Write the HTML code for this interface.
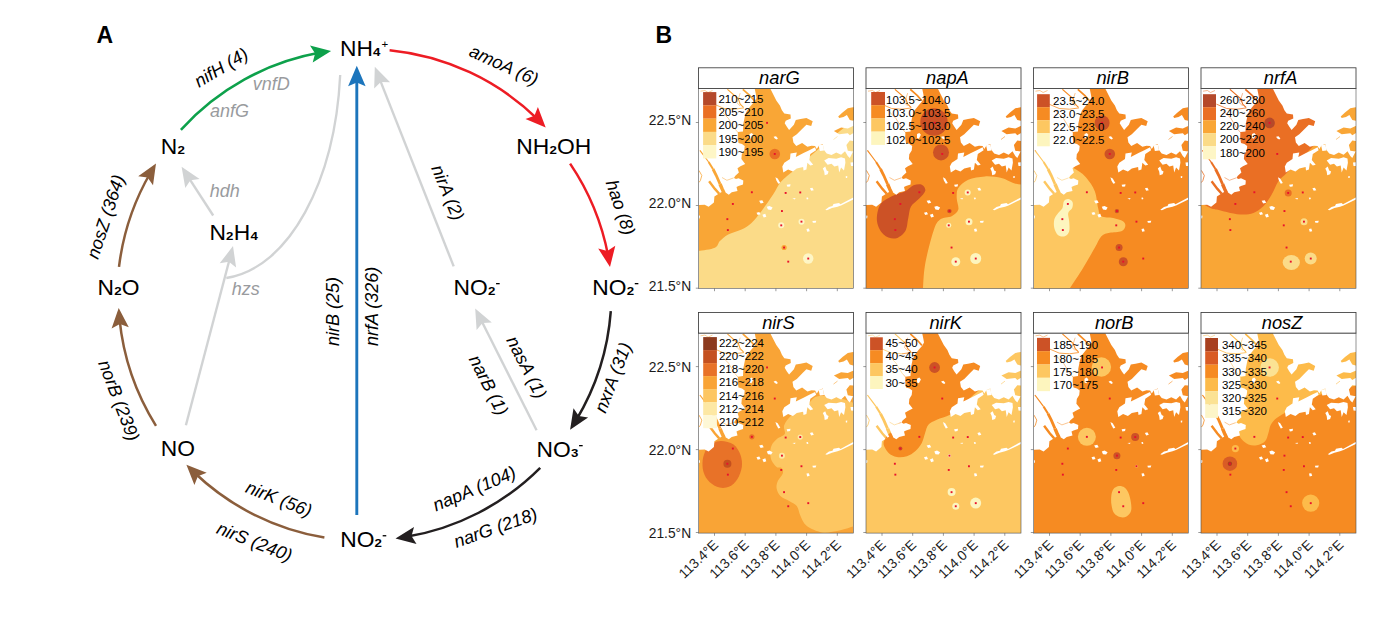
<!DOCTYPE html>
<html><head><meta charset="utf-8"><title>Figure</title>
<style>html,body{margin:0;padding:0;background:#fff;}body{width:1380px;height:623px;overflow:hidden;font-family:"Liberation Sans", sans-serif;}svg{display:block;position:absolute;left:0;top:0;}svg text{font-family:"Liberation Sans", sans-serif;}</style>
</head><body>
<svg width="1380" height="623" viewBox="0 0 1380 623">
<defs>
<mask id="water" maskUnits="userSpaceOnUse" x="0" y="0" width="155" height="200">
<rect x="0" y="0" width="155" height="200" fill="#fff"/>
<path d="M-2.0 -2.0 L56.0 -2.0 L56.3 0.6 L57.3 5.5 L58.0 9.5 L56.0 13.0 L52.5 17.0 L48.5 22.0 L46.5 27.0 L45.5 32.0 L44.8 35.3 L44.5 43.0 L39.4 43.6 L39.2 49.0 L40.0 54.5 L43.5 55.5 L46.2 57.5 L45.7 61.9 L43.3 65.8 L42.9 70.6 L46.7 75.4 L41.9 77.8 L39.0 79.7 L40.4 84.1 L36.6 87.4 L35.5 89.5 L37.5 90.6 L40.0 89.8 L44.8 92.0 L44.5 96.0 L40.0 97.5 L38.0 98.5 L39.0 102.4 L33.2 103.8 L30.3 106.2 L27.4 104.3 L25.5 102.4 L21.7 104.3 L15.9 108.1 L15.4 113.9 L10.1 118.3 L6.2 116.3 L0.0 116.6 L-2.0 116.6Z" fill="#000"/>
<path d="M72.0 -2.0 L72.0 0.6 L77.8 11.9 L81.4 16.9 L83.4 21.7 L85.8 25.1 L92.0 26.1 L92.3 29.9 L87.2 32.3 L86.2 34.7 L88.2 38.1 L90.6 41.5 L95.4 36.2 L97.3 31.4 L102.0 30.6 L107.9 29.4 L114.2 32.8 L112.7 37.6 L107.9 36.2 L104.1 40.0 L98.3 45.8 L94.0 48.7 L94.9 54.0 L97.8 57.4 L103.6 54.5 L108.9 58.3 L113.0 57.2 L116.6 57.4 L118.3 60.5 L120.5 57.0 L124.3 55.4 L125.3 61.2 L128.2 65.0 L133.0 66.5 L137.8 64.1 L142.6 66.3 L146.5 62.7 L149.3 67.5 L151.3 69.4 L154.6 63.1 L157.0 63.1 L157.0 -2.0Z" fill="#000"/>
<path d="M83.8 78.1 L85.8 74.2 L91.5 70.4 L92.0 65.1 L98.3 64.1 L97.3 68.5 L105.0 64.6 L110.8 61.7 L116.6 58.8 L117.6 61.7 L111.8 65.6 L110.8 71.4 L114.7 76.2 L111.8 77.1 L108.9 74.2 L107.9 81.0 L105.0 81.9 L104.6 78.6 L98.3 80.0 L94.4 82.9 L89.6 81.0 L84.8 83.9Z" fill="#000"/>
<path d="M125.7 72.0 L130.1 69.6 L137.8 70.2 L142.6 68.8 L146.5 70.0 L146.9 74.2 L145.5 81.9 L142.6 79.1 L140.7 83.9 L139.7 77.1 L135.9 78.1 L133.0 75.2 L129.1 76.2Z" fill="#000"/>
<path d="M124.3 80.0 L126.7 78.1 L128.2 81.9 L130.1 82.9 L129.1 85.8 L126.2 86.8 L125.7 82.9Z" fill="#000"/>
<path d="M75.1 48.3 L77.5 47.7 L79.4 50.0 L78.2 51.0 L76.3 49.9Z" fill="#000"/>
<path d="M51.0 45.6 L53.3 44.5 L54.9 46.3 L52.9 50.2 L51.0 49.4Z" fill="#000"/>
<path d="M120.0 56.7 L124.5 55.9 L125.5 61.9 L121.4 62.5Z" fill="#000"/>
<path d="M76.9 88.8 L79.2 90.1 L81.8 94.6 L79.8 95.3 L77.9 92.0Z" fill="#000"/>
<path d="M88.1 96.2 L92.0 95.7 L91.6 97.9 L88.9 98.3Z" fill="#000"/>
<path d="M111.4 99.8 L113.9 99.2 L115.3 101.7 L112.7 102.3Z" fill="#000"/>
<path d="M93.9 109.9 L97.1 109.6 L96.3 111.0Z" fill="#000"/>
<path d="M107.8 109.2 L109.4 108.9 L109.9 110.6 L108.4 110.9Z" fill="#000"/>
<path d="M60.6 112.3 L63.8 111.7 L65.2 114.2 L62.2 114.9Z" fill="#000"/>
<path d="M68.3 118.3 L71.0 117.5 L74.1 119.1 L72.6 121.5 L69.5 121.1Z" fill="#000"/>
<path d="M58.0 124.2 L60.8 123.4 L62.0 125.8 L59.2 126.6Z" fill="#000"/>
<path d="M63.9 126.3 L66.8 125.2 L67.8 128.2 L65.2 129.1Z" fill="#000"/>
<path d="M126.8 121.2 L130.5 118.5 L134.0 117.6 L135.0 115.6 L140.5 114.6 L142.0 115.8 L154.3 109.2 L157.0 108.3 L157.0 110.3 L154.3 111.2 L142.5 117.0 L139.0 118.2 L133.4 119.6 L128.4 121.7Z" fill="#000"/>
<path d="M108.0 140.5 L110.3 140.1 L111.2 142.7 L108.7 143.3Z" fill="#000"/>
<path d="M113.9 132.6 L117.8 132.3 L117.1 134.3 L114.4 134.3Z" fill="#000"/>
<path d="M147.2 87.7 L148.8 87.5 L148.6 89.5 L147.4 89.4Z" fill="#000"/>
<path d="M152.0 74.0 L156.4 73.8 L156.4 77.6 L152.5 77.5Z" fill="#000"/>
<path d="M-1.6 126.5 L1.5 127.3 L1.1 130.0 L-1.6 129.6Z" fill="#000"/>
<path d="M157.0 18.8 L154.6 18.8 L149.3 19.8 L144.0 24.0 L139.7 28.0 L140.7 29.4 L145.0 28.5 L148.4 26.5 L151.3 31.4 L154.6 32.3 L157.0 32.3Z" fill="#fff"/>
<path d="M157.0 37.6 L154.6 37.6 L149.3 40.0 L142.6 39.1 L135.4 42.4 L140.7 45.8 L149.3 44.8 L151.3 46.8 L154.6 44.8 L157.0 44.8Z" fill="#fff"/>
<path d="M157.0 52.5 L154.6 52.5 L151.3 52.1 L147.9 56.4 L149.3 62.2 L154.6 63.1 L157.0 63.1Z" fill="#fff"/>
<path d="M1.4 61.9 L6.0 68.0 L10.1 73.5" fill="none" stroke="#fff" stroke-width="1.2"/>
<path d="M10.1 73.5 L14.5 80.5" fill="none" stroke="#fff" stroke-width="2.0"/>
<path d="M14.5 80.5 L17.8 87.0 L21.5 95.5" fill="none" stroke="#fff" stroke-width="2.8"/>
<path d="M21.5 95.5 L23.6 100.4 L25.5 104.5" fill="none" stroke="#fff" stroke-width="3.5"/>
<path d="M10.6 92.7 L16.4 100.4 L20.7 105.3" fill="none" stroke="#fff" stroke-width="2.4"/>
<path d="M0.5 82.0 L3.3 87.0 L1.9 92.0 L0.4 94.0" fill="none" stroke="#fff" stroke-width="0.8"/>
<path d="M23.5 89.0 L28.4 91.8 L35.1 89.4" fill="none" stroke="#fff" stroke-width="0.5"/>
<path d="M28.9 0.8 L39.8 10.4 L41.7 15.6 L45.0 18.8" fill="none" stroke="#fff" stroke-width="1.1"/>
<path d="M44.3 0.8 L51.4 7.2 L55.9 12.3" fill="none" stroke="#fff" stroke-width="1.7"/>
<path d="M15.4 15.6 L25.7 20.0 L36.0 20.7 L45.5 19.4" fill="none" stroke="#fff" stroke-width="0.8"/>
<path d="M2.0 2.7 L6.4 2.0 L9.6 4.0 L14.0 2.0" fill="none" stroke="#fff" stroke-width="0.5"/>
<path d="M41.7 4.6 L38.5 14.3 L41.7 17.5" fill="none" stroke="#fff" stroke-width="0.5"/>
<path d="M22.0 22.0 L30.0 30.0 L36.0 40.0 L40.0 44.5" fill="none" stroke="#fff" stroke-width="0.5"/>
<path d="M135.0 51.0 L139.0 48.0" fill="none" stroke="#fff" stroke-width="0.6"/>
</mask>
</defs>
<rect x="0" y="0" width="1380" height="623" fill="#fff"/>
<path d="M340.2 75 C335 180 290 268 226.3 278" fill="none" stroke="#d1d3d4" stroke-width="2.35"/>
<line x1="185.9" y1="425.3" x2="230.5" y2="255.8" stroke="#d1d3d4" stroke-width="2.4"/><path d="M233.0 246.1 L236.1 267.6 L228.9 261.8 L219.7 263.3 Z" fill="#d1d3d4"/>
<line x1="213.2" y1="215.5" x2="187.0" y2="175.1" stroke="#d1d3d4" stroke-width="2.4"/><path d="M181.6 166.7 L199.6 178.9 L190.4 180.3 L185.3 188.1 Z" fill="#d1d3d4"/>
<line x1="453.7" y1="266.4" x2="378.5" y2="76.1" stroke="#d1d3d4" stroke-width="2.4"/><path d="M374.8 66.8 L390.1 82.3 L380.8 81.9 L374.2 88.5 Z" fill="#d1d3d4"/>
<line x1="536.6" y1="430.3" x2="479.7" y2="317.3" stroke="#d1d3d4" stroke-width="2.4"/><path d="M475.2 308.4 L491.8 322.4 L482.5 322.9 L476.6 330.1 Z" fill="#d1d3d4"/>
<line x1="356.8" y1="515.0" x2="356.8" y2="75.7" stroke="#1c75bc" stroke-width="2.9"/><path d="M356.8 65.7 L365.6 86.2 L356.8 82.4 L348.1 86.2 Z" fill="#1c75bc"/>
<path d="M180.9 129.8 A247.0 247.0 0 0 1 320.2 52.6" fill="none" stroke="#0da14b" stroke-width="2.5"/><path d="M331.1 50.9 L312.7 62.5 L315.1 53.4 L310.0 45.4 Z" fill="#0da14b"/>
<path d="M389.6 50.2 A247.0 247.0 0 0 1 538.0 119.5" fill="none" stroke="#ed1c24" stroke-width="2.5"/><path d="M545.7 127.4 L525.5 119.1 L534.4 115.8 L537.9 107.0 Z" fill="#ed1c24"/>
<path d="M570.1 163.6 A247.0 247.0 0 0 1 608.2 256.0" fill="none" stroke="#ed1c24" stroke-width="2.5"/><path d="M610.0 266.9 L598.2 248.6 L607.3 250.9 L615.3 245.8 Z" fill="#ed1c24"/>
<path d="M610.8 311.2 A247.0 247.0 0 0 1 576.0 420.5" fill="none" stroke="#231f20" stroke-width="2.5"/><path d="M570.1 429.8 L573.5 408.3 L578.8 416.1 L588.1 417.5 Z" fill="#231f20"/>
<path d="M540.2 467.8 A247.0 247.0 0 0 1 406.4 536.8" fill="none" stroke="#231f20" stroke-width="2.5"/><path d="M395.5 538.4 L414.0 527.0 L411.5 536.1 L416.5 544.1 Z" fill="#231f20"/>
<path d="M324.4 537.6 A247.0 247.0 0 0 1 194.2 472.5" fill="none" stroke="#8b5e3c" stroke-width="2.5"/><path d="M186.4 464.7 L206.7 472.7 L197.9 476.2 L194.4 485.0 Z" fill="#8b5e3c"/>
<path d="M156.0 425.8 A247.0 247.0 0 0 1 119.5 318.9" fill="none" stroke="#8b5e3c" stroke-width="2.5"/><path d="M118.7 307.9 L128.8 327.2 L119.9 324.1 L111.6 328.5 Z" fill="#8b5e3c"/>
<path d="M119.0 266.9 A247.0 247.0 0 0 1 150.3 173.0" fill="none" stroke="#8b5e3c" stroke-width="2.5"/><path d="M156.0 163.6 L153.0 185.2 L147.6 177.4 L138.2 176.2 Z" fill="#8b5e3c"/>
<text x="340.00" y="56.1" font-size="22.8" fill="#000">NH</text><text transform="translate(373.12,56.1) scale(1.30,1)" font-size="10.2" font-weight="bold" fill="#000">4</text><text x="381.50" y="47.7" font-size="11.5" fill="#000">+</text>
<text x="516.30" y="154.4" font-size="22.8" fill="#000">NH</text><text transform="translate(549.42,154.4) scale(1.30,1)" font-size="10.2" font-weight="bold" fill="#000">2</text><text x="557.10" y="154.4" font-size="22.8" fill="#000">OH</text>
<text x="592.30" y="294.6" font-size="22.8" fill="#000">NO</text><text transform="translate(626.70,294.6) scale(1.30,1)" font-size="10.2" font-weight="bold" fill="#000">2</text><rect x="634.77" y="283.00" width="3.6" height="1.3" fill="#000"/>
<text x="453.60" y="294.6" font-size="22.8" fill="#000">NO</text><text transform="translate(488.00,294.6) scale(1.30,1)" font-size="10.2" font-weight="bold" fill="#000">2</text><rect x="496.07" y="283.00" width="3.6" height="1.3" fill="#000"/>
<text x="536.60" y="456.6" font-size="22.8" fill="#000">NO</text><text transform="translate(571.00,456.6) scale(1.30,1)" font-size="10.2" font-weight="bold" fill="#000">3</text><rect x="579.07" y="445.00" width="3.6" height="1.3" fill="#000"/>
<text x="340.20" y="546.7" font-size="22.8" fill="#000">NO</text><text transform="translate(374.60,546.7) scale(1.30,1)" font-size="10.2" font-weight="bold" fill="#000">2</text><rect x="382.67" y="535.10" width="3.6" height="1.3" fill="#000"/>
<text x="160.80" y="456.3" font-size="22.8" fill="#000">NO</text>
<text x="97.50" y="294.6" font-size="22.8" fill="#000">N</text><text transform="translate(114.16,294.6) scale(1.30,1)" font-size="10.2" font-weight="bold" fill="#000">2</text><text x="121.83" y="294.6" font-size="22.8" fill="#000">O</text>
<text x="160.80" y="154.4" font-size="22.8" fill="#000">N</text><text transform="translate(177.46,154.4) scale(1.30,1)" font-size="10.2" font-weight="bold" fill="#000">2</text>
<text x="209.40" y="239.6" font-size="22.8" fill="#000">N</text><text transform="translate(226.06,239.6) scale(1.30,1)" font-size="10.2" font-weight="bold" fill="#000">2</text><text x="233.73" y="239.6" font-size="22.8" fill="#000">H</text><text transform="translate(250.40,239.6) scale(1.30,1)" font-size="10.2" font-weight="bold" fill="#000">4</text>
<text transform="translate(199.0,88.0) rotate(-31.0)" font-size="18.0" font-style="italic" fill="#000" text-anchor="start">nifH (4)</text>
<text transform="translate(252.7,90.3) rotate(0.0)" font-size="18.0" font-style="italic" fill="#999b9e" text-anchor="start">vnfD</text>
<text transform="translate(209.9,116.6) rotate(0.0)" font-size="18.0" font-style="italic" fill="#999b9e" text-anchor="start">anfG</text>
<text transform="translate(209.8,196.6) rotate(0.0)" font-size="18.0" font-style="italic" fill="#999b9e" text-anchor="start">hdh</text>
<text transform="translate(231.8,294.6) rotate(0.0)" font-size="18.0" font-style="italic" fill="#999b9e" text-anchor="start">hzs</text>
<text transform="translate(468.0,55.5) rotate(24.5)" font-size="18.0" font-style="italic" fill="#000" text-anchor="start">amoA (6)</text>
<text transform="translate(605.5,182.5) rotate(71.0)" font-size="18.0" font-style="italic" fill="#000" text-anchor="start">hao (8)</text>
<text transform="translate(431.0,168.0) rotate(67.5)" font-size="18.0" font-style="italic" fill="#000" text-anchor="start">nirA (2)</text>
<text transform="translate(605.5,414.0) rotate(-69.0)" font-size="18.0" font-style="italic" fill="#000" text-anchor="start">nxrA (31)</text>
<text transform="translate(506.0,340.0) rotate(63.0)" font-size="18.0" font-style="italic" fill="#000" text-anchor="start">nasA (1)</text>
<text transform="translate(468.5,359.0) rotate(63.0)" font-size="18.0" font-style="italic" fill="#000" text-anchor="start">narB (1)</text>
<text transform="translate(436.0,511.5) rotate(-23.0)" font-size="18.0" font-style="italic" fill="#000" text-anchor="start">napA (104)</text>
<text transform="translate(456.5,548.0) rotate(-19.5)" font-size="18.0" font-style="italic" fill="#000" text-anchor="start">narG (218)</text>
<text transform="translate(244.5,492.0) rotate(21.5)" font-size="18.0" font-style="italic" fill="#000" text-anchor="start">nirK (56)</text>
<text transform="translate(215.5,533.0) rotate(21.5)" font-size="18.0" font-style="italic" fill="#000" text-anchor="start">nirS (240)</text>
<text transform="translate(98.0,363.0) rotate(69.0)" font-size="18.0" font-style="italic" fill="#000" text-anchor="start">norB (239)</text>
<text transform="translate(98.0,260.0) rotate(-72.0)" font-size="18.0" font-style="italic" fill="#000" text-anchor="start">nosZ (364)</text>
<text transform="translate(339.0,346.0) rotate(-90.0)" font-size="18.0" font-style="italic" fill="#000" text-anchor="start">nirB (25)</text>
<text transform="translate(377.8,346.0) rotate(-90.0)" font-size="18.0" font-style="italic" fill="#000" text-anchor="start">nrfA (326)</text>
<text x="96.5" y="43" font-size="23" font-weight="bold" fill="#000">A</text>
<text x="655.5" y="43" font-size="23" font-weight="bold" fill="#000">B</text>
<g transform="translate(698.5,88.5)">
<g mask="url(#water)">
<rect x="0" y="0" width="155" height="200" fill="#fbdb88"/>
<path d="M157.0 30.0 C152.5 33.7 140.1 43.5 130.0 52.0 C119.9 60.5 104.0 74.4 96.2 81.2 C88.4 88.0 86.5 88.7 82.9 92.8 C79.3 96.9 77.9 101.1 74.6 106.1 C71.3 111.1 66.5 118.0 62.9 122.7 C59.3 127.4 56.3 131.3 53.0 134.4 C49.7 137.5 46.9 139.1 43.0 141.0 C39.1 142.9 33.3 144.1 29.7 146.0 C26.1 147.9 23.6 150.4 21.4 152.6 C19.2 154.8 20.0 157.6 16.4 159.3 C12.8 161.0 3.2 162.0 0.0 162.6 C-3.2 163.2 -2.5 162.9 -3.0 163.0 L-3 -3 L157 -3 Z" fill="#f9a636"/>
<circle cx="76.3" cy="65.5" r="5.3" fill="#ea6f24"/>
<circle cx="85.6" cy="159.0" r="2.6" fill="#f9a636"/>
<circle cx="82.7" cy="136.8" r="3.0" fill="#fef6c6"/>
<circle cx="103.0" cy="133.2" r="3.0" fill="#fef6c6"/>
<circle cx="109.7" cy="170.0" r="5.2" fill="#fef6c6"/>
</g>
<rect x="67.6" y="33.4" width="1.9" height="1.9" fill="#e8112d"/>
<rect x="75.3" y="64.5" width="1.9" height="1.9" fill="#e8112d"/>
<rect x="52.4" y="102.8" width="1.9" height="1.9" fill="#e8112d"/>
<rect x="86.2" y="103.5" width="1.9" height="1.9" fill="#e8112d"/>
<rect x="100.8" y="103.0" width="1.9" height="1.9" fill="#e8112d"/>
<rect x="33.4" y="114.5" width="1.9" height="1.9" fill="#e8112d"/>
<rect x="82.5" y="121.6" width="1.9" height="1.9" fill="#e8112d"/>
<rect x="27.9" y="129.7" width="1.9" height="1.9" fill="#e8112d"/>
<rect x="81.8" y="135.9" width="1.9" height="1.9" fill="#e8112d"/>
<rect x="102.0" y="132.2" width="1.9" height="1.9" fill="#e8112d"/>
<rect x="28.4" y="140.6" width="1.9" height="1.9" fill="#e8112d"/>
<rect x="84.6" y="158.1" width="1.9" height="1.9" fill="#e8112d"/>
<rect x="88.8" y="172.2" width="1.9" height="1.9" fill="#e8112d"/>
<rect x="108.8" y="169.1" width="1.9" height="1.9" fill="#e8112d"/>
<rect x="4.60" y="3.60" width="13.20" height="13.35" fill="#b5492a"/>
<text x="19.90" y="14.30" font-size="11.5" fill="#000">210~215</text>
<rect x="4.60" y="16.85" width="13.20" height="13.35" fill="#ea6f24"/>
<text x="19.90" y="27.60" font-size="11.5" fill="#000">205~210</text>
<rect x="4.60" y="30.10" width="13.20" height="13.35" fill="#f9a636"/>
<text x="19.90" y="40.90" font-size="11.5" fill="#000">200~205</text>
<rect x="4.60" y="43.35" width="13.20" height="13.35" fill="#fbdb88"/>
<text x="19.90" y="54.20" font-size="11.5" fill="#000">195~200</text>
<rect x="4.60" y="56.60" width="13.20" height="13.35" fill="#fef6c6"/>
<text x="19.90" y="67.50" font-size="11.5" fill="#000">190~195</text>
<rect x="0" y="0" width="155" height="200" fill="none" stroke="#4d4d4d" stroke-width="0.6"/>
<rect x="0" y="-20.7" width="155" height="20.7" fill="#fff" stroke="#3a3a3a" stroke-width="0.85"/>
<text x="80.9" y="-4.3" font-size="18.3" font-style="italic" text-anchor="middle" fill="#000">narG</text>
<line x1="16.0" y1="200" x2="16.0" y2="202.7" stroke="#555" stroke-width="0.6"/>
<line x1="46.7" y1="200" x2="46.7" y2="202.7" stroke="#555" stroke-width="0.6"/>
<line x1="77.4" y1="200" x2="77.4" y2="202.7" stroke="#555" stroke-width="0.6"/>
<line x1="108.1" y1="200" x2="108.1" y2="202.7" stroke="#555" stroke-width="0.6"/>
<line x1="138.8" y1="200" x2="138.8" y2="202.7" stroke="#555" stroke-width="0.6"/>
<line x1="-2.7" y1="34.0" x2="0" y2="34.0" stroke="#555" stroke-width="0.6"/>
<text x="-7.4" y="36.5" text-anchor="end" font-size="13.8" fill="#1a1a1a">22.5°N</text>
<line x1="-2.7" y1="117.0" x2="0" y2="117.0" stroke="#555" stroke-width="0.6"/>
<text x="-7.4" y="119.5" text-anchor="end" font-size="13.8" fill="#1a1a1a">22.0°N</text>
<line x1="-2.7" y1="199.7" x2="0" y2="199.7" stroke="#555" stroke-width="0.6"/>
<text x="-7.4" y="202.6" text-anchor="end" font-size="13.8" fill="#1a1a1a">21.5°N</text>
</g>
<g transform="translate(866.0,88.5)">
<g mask="url(#water)">
<rect x="0" y="0" width="155" height="200" fill="#f68b22"/>
<path d="M56.8 203.0 C57.2 198.5 57.3 186.0 59.1 175.9 C60.9 165.8 64.9 150.2 67.4 142.7 C69.9 135.2 71.0 133.5 74.1 131.0 C77.1 128.5 82.7 129.3 85.7 127.7 C88.7 126.0 91.5 124.1 92.3 121.1 C93.1 118.1 90.7 113.1 90.7 109.5 C90.7 105.9 90.4 102.5 92.3 99.5 C94.2 96.5 97.9 93.1 102.3 91.2 C106.7 89.3 113.4 88.2 118.9 87.9 C124.4 87.6 130.8 88.4 135.5 89.5 C140.2 90.6 143.4 93.3 147.2 94.5 C150.9 95.7 156.2 96.2 158.0 96.5 L158 203 Z" fill="#fdc761"/>
<circle cx="68.0" cy="33.5" r="13.7" fill="#cc5226"/>
<circle cx="75.0" cy="63.9" r="8.0" fill="#cc5226"/>
<path d="M55.8 96.2 C57.8 97.1 59.8 100.0 59.3 102.3 C58.8 104.6 55.4 107.7 53.0 110.3 C50.6 112.9 46.8 114.8 45.0 118.0 C43.2 121.2 43.3 125.3 42.3 129.4 C41.3 133.5 41.4 139.3 39.2 142.7 C37.0 146.1 32.8 149.4 29.2 150.0 C25.6 150.6 20.6 148.9 17.6 146.0 C14.6 143.1 11.6 137.7 11.0 132.7 C10.4 127.7 11.8 120.2 14.3 116.1 C16.8 111.9 21.8 110.0 25.9 107.8 C30.0 105.6 35.6 104.6 39.2 102.8 C42.8 101.0 44.7 97.9 47.5 96.8 C50.3 95.7 53.8 95.3 55.8 96.2Z" fill="#cc5226"/>
<circle cx="83.4" cy="122.6" r="2.2" fill="#cc5226"/>
<circle cx="101.7" cy="104.0" r="3.0" fill="#fdf5be"/>
<circle cx="103.0" cy="133.2" r="3.5" fill="#fdf5be"/>
<circle cx="89.8" cy="173.2" r="4.5" fill="#fdf5be"/>
<circle cx="109.7" cy="170.0" r="5.5" fill="#fdf5be"/>
<circle cx="82.7" cy="136.8" r="2.5" fill="#fdf5be"/>
</g>
<rect x="67.6" y="33.4" width="1.9" height="1.9" fill="#e8112d"/>
<rect x="75.3" y="64.5" width="1.9" height="1.9" fill="#e8112d"/>
<rect x="52.4" y="102.8" width="1.9" height="1.9" fill="#e8112d"/>
<rect x="86.2" y="103.5" width="1.9" height="1.9" fill="#e8112d"/>
<rect x="100.8" y="103.0" width="1.9" height="1.9" fill="#e8112d"/>
<rect x="33.4" y="114.5" width="1.9" height="1.9" fill="#e8112d"/>
<rect x="82.5" y="121.6" width="1.9" height="1.9" fill="#e8112d"/>
<rect x="27.9" y="129.7" width="1.9" height="1.9" fill="#e8112d"/>
<rect x="81.8" y="135.9" width="1.9" height="1.9" fill="#e8112d"/>
<rect x="102.0" y="132.2" width="1.9" height="1.9" fill="#e8112d"/>
<rect x="28.4" y="140.6" width="1.9" height="1.9" fill="#e8112d"/>
<rect x="84.6" y="158.1" width="1.9" height="1.9" fill="#e8112d"/>
<rect x="88.8" y="172.2" width="1.9" height="1.9" fill="#e8112d"/>
<rect x="108.8" y="169.1" width="1.9" height="1.9" fill="#e8112d"/>
<rect x="5.20" y="3.50" width="13.80" height="13.30" fill="#cc5226"/>
<text x="20.10" y="15.00" font-size="11.5" fill="#000">103.5~104.0</text>
<rect x="5.20" y="16.70" width="13.80" height="13.30" fill="#f68b22"/>
<text x="20.10" y="28.40" font-size="11.5" fill="#000">103.0~103.5</text>
<rect x="5.20" y="29.90" width="13.80" height="13.30" fill="#fdc761"/>
<text x="20.10" y="41.80" font-size="11.5" fill="#000">102.5~103.0</text>
<rect x="5.20" y="43.10" width="13.80" height="13.30" fill="#fdf5be"/>
<text x="20.10" y="55.20" font-size="11.5" fill="#000">102.0~102.5</text>
<rect x="0" y="0" width="155" height="200" fill="none" stroke="#4d4d4d" stroke-width="0.6"/>
<rect x="0" y="-20.7" width="155" height="20.7" fill="#fff" stroke="#3a3a3a" stroke-width="0.85"/>
<text x="81.4" y="-4.3" font-size="18.3" font-style="italic" text-anchor="middle" fill="#000">napA</text>
<line x1="16.0" y1="200" x2="16.0" y2="202.7" stroke="#555" stroke-width="0.6"/>
<line x1="46.7" y1="200" x2="46.7" y2="202.7" stroke="#555" stroke-width="0.6"/>
<line x1="77.4" y1="200" x2="77.4" y2="202.7" stroke="#555" stroke-width="0.6"/>
<line x1="108.1" y1="200" x2="108.1" y2="202.7" stroke="#555" stroke-width="0.6"/>
<line x1="138.8" y1="200" x2="138.8" y2="202.7" stroke="#555" stroke-width="0.6"/>
<line x1="-2.7" y1="34.0" x2="0" y2="34.0" stroke="#555" stroke-width="0.6"/>
<line x1="-2.7" y1="117.0" x2="0" y2="117.0" stroke="#555" stroke-width="0.6"/>
<line x1="-2.7" y1="199.7" x2="0" y2="199.7" stroke="#555" stroke-width="0.6"/>
</g>
<g transform="translate(1033.5,88.5)">
<g mask="url(#water)">
<rect x="0" y="0" width="155" height="200" fill="#f68b22"/>
<path d="M-3.0 60.0 C0.8 61.7 12.3 66.5 20.0 70.0 C27.7 73.5 37.5 78.0 43.0 81.2 C48.5 84.5 50.0 85.9 53.0 89.5 C56.0 93.1 59.4 97.8 61.3 102.8 C63.2 107.8 63.5 115.2 64.6 119.4 C65.7 123.6 65.4 126.0 67.9 127.7 C70.4 129.4 76.0 128.6 79.6 129.4 C83.2 130.2 87.5 131.3 89.5 132.7 C91.5 134.1 92.1 136.0 91.8 137.7 C91.5 139.4 90.5 141.6 87.9 142.7 C85.3 143.8 79.5 143.5 76.2 144.3 C72.9 145.1 70.4 145.2 67.9 147.7 C65.4 150.2 64.3 154.1 61.3 159.3 C58.3 164.6 53.9 172.4 49.7 179.2 C45.6 185.9 39.0 195.7 36.4 199.8 C33.8 203.9 34.4 203.3 34.0 204.0 L-3 204 Z" fill="#fdc761"/>
<path d="M34.7 110.5 C36.1 110.6 38.3 111.9 39.0 113.4 C39.7 114.9 39.4 117.6 38.7 119.4 C38.0 121.2 35.2 122.2 34.7 124.4 C34.2 126.6 35.5 129.6 35.7 132.7 C35.9 135.8 36.4 140.2 35.7 142.7 C35.0 145.2 33.2 147.0 31.4 147.7 C29.6 148.4 26.5 148.1 24.7 146.7 C22.9 145.3 21.4 142.0 20.8 139.4 C20.2 136.8 20.2 133.5 20.8 131.0 C21.4 128.5 23.3 126.3 24.7 124.4 C26.1 122.5 28.1 121.3 29.0 119.4 C29.9 117.5 29.4 114.3 30.4 112.8 C31.3 111.3 33.3 110.4 34.7 110.5Z" fill="#fdf5be"/>
<circle cx="68.6" cy="34.4" r="7.5" fill="#cc5226"/>
<circle cx="76.3" cy="65.5" r="5.3" fill="#cc5226"/>
<circle cx="83.4" cy="122.6" r="2.2" fill="#cc5226"/>
<circle cx="85.6" cy="159.0" r="3.5" fill="#cc5226"/>
<circle cx="89.8" cy="173.2" r="4.5" fill="#cc5226"/>
</g>
<rect x="67.6" y="33.4" width="1.9" height="1.9" fill="#e8112d"/>
<rect x="75.3" y="64.5" width="1.9" height="1.9" fill="#e8112d"/>
<rect x="52.4" y="102.8" width="1.9" height="1.9" fill="#e8112d"/>
<rect x="86.2" y="103.5" width="1.9" height="1.9" fill="#e8112d"/>
<rect x="100.8" y="103.0" width="1.9" height="1.9" fill="#e8112d"/>
<rect x="33.4" y="114.5" width="1.9" height="1.9" fill="#e8112d"/>
<rect x="82.5" y="121.6" width="1.9" height="1.9" fill="#e8112d"/>
<rect x="27.9" y="129.7" width="1.9" height="1.9" fill="#e8112d"/>
<rect x="81.8" y="135.9" width="1.9" height="1.9" fill="#e8112d"/>
<rect x="102.0" y="132.2" width="1.9" height="1.9" fill="#e8112d"/>
<rect x="28.4" y="140.6" width="1.9" height="1.9" fill="#e8112d"/>
<rect x="84.6" y="158.1" width="1.9" height="1.9" fill="#e8112d"/>
<rect x="88.8" y="172.2" width="1.9" height="1.9" fill="#e8112d"/>
<rect x="108.8" y="169.1" width="1.9" height="1.9" fill="#e8112d"/>
<rect x="3.60" y="5.70" width="12.70" height="13.10" fill="#cc5226"/>
<text x="19.50" y="16.00" font-size="11.5" fill="#000">23.5~24.0</text>
<rect x="3.60" y="18.70" width="12.70" height="13.10" fill="#f68b22"/>
<text x="19.50" y="29.05" font-size="11.5" fill="#000">23.0~23.5</text>
<rect x="3.60" y="31.70" width="12.70" height="13.10" fill="#fdc761"/>
<text x="19.50" y="42.10" font-size="11.5" fill="#000">22.5~23.0</text>
<rect x="3.60" y="44.70" width="12.70" height="13.10" fill="#fdf5be"/>
<text x="19.50" y="55.15" font-size="11.5" fill="#000">22.0~22.5</text>
<rect x="0" y="0" width="155" height="200" fill="none" stroke="#4d4d4d" stroke-width="0.6"/>
<rect x="0" y="-20.7" width="155" height="20.7" fill="#fff" stroke="#3a3a3a" stroke-width="0.85"/>
<text x="79.2" y="-4.3" font-size="18.3" font-style="italic" text-anchor="middle" fill="#000">nirB</text>
<line x1="16.0" y1="200" x2="16.0" y2="202.7" stroke="#555" stroke-width="0.6"/>
<line x1="46.7" y1="200" x2="46.7" y2="202.7" stroke="#555" stroke-width="0.6"/>
<line x1="77.4" y1="200" x2="77.4" y2="202.7" stroke="#555" stroke-width="0.6"/>
<line x1="108.1" y1="200" x2="108.1" y2="202.7" stroke="#555" stroke-width="0.6"/>
<line x1="138.8" y1="200" x2="138.8" y2="202.7" stroke="#555" stroke-width="0.6"/>
<line x1="-2.7" y1="34.0" x2="0" y2="34.0" stroke="#555" stroke-width="0.6"/>
<line x1="-2.7" y1="117.0" x2="0" y2="117.0" stroke="#555" stroke-width="0.6"/>
<line x1="-2.7" y1="199.7" x2="0" y2="199.7" stroke="#555" stroke-width="0.6"/>
</g>
<g transform="translate(1201.0,88.5)">
<g mask="url(#water)">
<rect x="0" y="0" width="155" height="200" fill="#f9a636"/>
<path d="M122.0 45.0 C120.0 47.5 114.4 55.4 110.0 60.0 C105.6 64.7 99.8 68.8 95.7 72.9 C91.7 77.0 88.8 81.2 85.7 84.5 C82.7 87.8 79.9 89.2 77.4 92.8 C74.9 96.4 73.2 101.9 70.7 106.1 C68.2 110.3 65.4 114.8 62.4 117.8 C59.4 120.8 55.8 123.0 52.5 124.4 C49.2 125.8 46.4 126.1 42.5 126.1 C38.6 126.1 33.6 125.2 29.2 124.4 C24.8 123.6 19.2 121.9 15.9 121.1 C12.6 120.3 12.5 120.8 9.3 119.4 C6.2 118.1 -0.9 114.1 -3.0 113.0 L-3 -3 L122 -3 Z" fill="#ea6f24"/>
<circle cx="68.6" cy="34.4" r="5.3" fill="#b5492a"/>
<circle cx="87.2" cy="104.4" r="3.5" fill="#ea6f24"/>
<circle cx="103.0" cy="133.2" r="3.5" fill="#fbdb88"/>
<ellipse cx="90.3" cy="174.0" rx="8.6" ry="7.4" fill="#fbdb88"/>
<circle cx="109.7" cy="170.0" r="6.0" fill="#fbdb88"/>
</g>
<rect x="67.6" y="33.4" width="1.9" height="1.9" fill="#e8112d"/>
<rect x="75.3" y="64.5" width="1.9" height="1.9" fill="#e8112d"/>
<rect x="52.4" y="102.8" width="1.9" height="1.9" fill="#e8112d"/>
<rect x="86.2" y="103.5" width="1.9" height="1.9" fill="#e8112d"/>
<rect x="100.8" y="103.0" width="1.9" height="1.9" fill="#e8112d"/>
<rect x="33.4" y="114.5" width="1.9" height="1.9" fill="#e8112d"/>
<rect x="82.5" y="121.6" width="1.9" height="1.9" fill="#e8112d"/>
<rect x="27.9" y="129.7" width="1.9" height="1.9" fill="#e8112d"/>
<rect x="81.8" y="135.9" width="1.9" height="1.9" fill="#e8112d"/>
<rect x="102.0" y="132.2" width="1.9" height="1.9" fill="#e8112d"/>
<rect x="28.4" y="140.6" width="1.9" height="1.9" fill="#e8112d"/>
<rect x="84.6" y="158.1" width="1.9" height="1.9" fill="#e8112d"/>
<rect x="88.8" y="172.2" width="1.9" height="1.9" fill="#e8112d"/>
<rect x="108.8" y="169.1" width="1.9" height="1.9" fill="#e8112d"/>
<rect x="2.00" y="5.70" width="13.00" height="13.10" fill="#b5492a"/>
<text x="18.70" y="15.80" font-size="11.5" fill="#000">260~280</text>
<rect x="2.00" y="18.70" width="13.00" height="13.10" fill="#ea6f24"/>
<text x="18.70" y="28.85" font-size="11.5" fill="#000">240~260</text>
<rect x="2.00" y="31.70" width="13.00" height="13.10" fill="#f9a636"/>
<text x="18.70" y="41.90" font-size="11.5" fill="#000">220~240</text>
<rect x="2.00" y="44.70" width="13.00" height="13.10" fill="#fbdb88"/>
<text x="18.70" y="54.95" font-size="11.5" fill="#000">200~220</text>
<rect x="2.00" y="57.70" width="13.00" height="13.10" fill="#fef6c6"/>
<text x="18.70" y="68.00" font-size="11.5" fill="#000">180~200</text>
<rect x="0" y="0" width="155" height="200" fill="none" stroke="#4d4d4d" stroke-width="0.6"/>
<rect x="0" y="-20.7" width="155" height="20.7" fill="#fff" stroke="#3a3a3a" stroke-width="0.85"/>
<text x="79.6" y="-4.3" font-size="18.3" font-style="italic" text-anchor="middle" fill="#000">nrfA</text>
<line x1="16.0" y1="200" x2="16.0" y2="202.7" stroke="#555" stroke-width="0.6"/>
<line x1="46.7" y1="200" x2="46.7" y2="202.7" stroke="#555" stroke-width="0.6"/>
<line x1="77.4" y1="200" x2="77.4" y2="202.7" stroke="#555" stroke-width="0.6"/>
<line x1="108.1" y1="200" x2="108.1" y2="202.7" stroke="#555" stroke-width="0.6"/>
<line x1="138.8" y1="200" x2="138.8" y2="202.7" stroke="#555" stroke-width="0.6"/>
<line x1="-2.7" y1="34.0" x2="0" y2="34.0" stroke="#555" stroke-width="0.6"/>
<line x1="-2.7" y1="117.0" x2="0" y2="117.0" stroke="#555" stroke-width="0.6"/>
<line x1="-2.7" y1="199.7" x2="0" y2="199.7" stroke="#555" stroke-width="0.6"/>
</g>
<g transform="translate(698.5,333.1)">
<g mask="url(#water)">
<rect x="0" y="0" width="155" height="200" fill="#f9a436"/>
<path d="M158.0 71.0 C154.8 69.9 145.2 65.8 138.6 64.5 C132.0 63.2 123.5 62.0 118.4 63.3 C113.4 64.6 112.5 68.9 108.3 72.1 C104.1 75.2 97.0 78.8 93.2 82.2 C89.4 85.6 86.9 89.1 85.7 92.2 C84.5 95.3 87.5 98.7 86.2 101.0 C84.9 103.3 80.3 104.2 78.1 106.1 C75.9 108.0 74.1 110.1 73.1 112.4 C72.0 114.7 71.8 117.5 71.8 120.0 C71.8 122.5 72.0 125.2 73.1 127.5 C74.1 129.8 76.4 132.6 78.1 133.8 C79.8 135.1 82.0 133.9 83.1 135.0 C84.1 136.1 85.0 138.0 84.4 140.1 C83.8 142.2 80.5 145.2 79.4 147.7 C78.4 150.2 77.7 152.7 78.1 155.2 C78.5 157.7 79.8 160.7 81.9 162.8 C84.0 164.9 88.0 166.1 90.7 167.8 C93.4 169.5 96.4 170.3 98.3 172.8 C100.2 175.3 100.3 179.5 102.0 182.9 C103.7 186.3 104.7 190.3 108.3 193.0 C111.9 195.7 118.4 198.5 123.4 199.3 C128.5 200.1 132.8 199.1 138.6 198.0 C144.4 196.9 154.8 193.4 158.0 192.5 Z" fill="#fdc661"/>
<path d="M23.0 108.0 C26.3 108.2 31.8 109.2 35.0 111.5 C38.2 113.8 40.6 118.2 42.0 122.0 C43.4 125.8 43.8 130.0 43.3 134.0 C42.8 138.0 41.0 142.8 39.0 146.0 C37.0 149.2 34.0 152.1 31.0 153.5 C28.0 154.9 24.3 155.2 21.0 154.5 C17.7 153.8 13.7 151.6 11.0 149.0 C8.3 146.4 6.1 142.7 5.0 139.0 C3.9 135.3 3.7 130.8 4.2 127.0 C4.7 123.2 6.2 118.8 8.0 116.0 C9.8 113.2 12.5 111.3 15.0 110.0 C17.5 108.7 19.7 107.8 23.0 108.0Z" fill="#e87228"/>
<circle cx="28.9" cy="130.6" r="4.0" fill="#c4501f"/>
<circle cx="53.4" cy="103.7" r="2.6" fill="#e87228"/>
<circle cx="101.7" cy="104.0" r="2.6" fill="#fde8a4"/>
<circle cx="83.4" cy="122.6" r="3.0" fill="#fde8a4"/>
</g>
<rect x="67.6" y="33.4" width="1.9" height="1.9" fill="#e8112d"/>
<rect x="75.3" y="64.5" width="1.9" height="1.9" fill="#e8112d"/>
<rect x="52.4" y="102.8" width="1.9" height="1.9" fill="#e8112d"/>
<rect x="86.2" y="103.5" width="1.9" height="1.9" fill="#e8112d"/>
<rect x="100.8" y="103.0" width="1.9" height="1.9" fill="#e8112d"/>
<rect x="33.4" y="114.5" width="1.9" height="1.9" fill="#e8112d"/>
<rect x="82.5" y="121.6" width="1.9" height="1.9" fill="#e8112d"/>
<rect x="27.9" y="129.7" width="1.9" height="1.9" fill="#e8112d"/>
<rect x="81.8" y="135.9" width="1.9" height="1.9" fill="#e8112d"/>
<rect x="102.0" y="132.2" width="1.9" height="1.9" fill="#e8112d"/>
<rect x="28.4" y="140.6" width="1.9" height="1.9" fill="#e8112d"/>
<rect x="84.6" y="158.1" width="1.9" height="1.9" fill="#e8112d"/>
<rect x="88.8" y="172.2" width="1.9" height="1.9" fill="#e8112d"/>
<rect x="108.8" y="169.1" width="1.9" height="1.9" fill="#e8112d"/>
<rect x="4.70" y="4.00" width="13.70" height="13.10" fill="#8c3a1e"/>
<text x="20.40" y="14.10" font-size="11.5" fill="#000">222~224</text>
<rect x="4.70" y="17.00" width="13.70" height="13.10" fill="#c4501f"/>
<text x="20.40" y="27.20" font-size="11.5" fill="#000">220~222</text>
<rect x="4.70" y="30.00" width="13.70" height="13.10" fill="#e87228"/>
<text x="20.40" y="40.30" font-size="11.5" fill="#000">218~220</text>
<rect x="4.70" y="43.00" width="13.70" height="13.10" fill="#f9a436"/>
<text x="20.40" y="53.40" font-size="11.5" fill="#000">216~218</text>
<rect x="4.70" y="56.00" width="13.70" height="13.10" fill="#fdc661"/>
<text x="20.40" y="66.50" font-size="11.5" fill="#000">214~216</text>
<rect x="4.70" y="69.00" width="13.70" height="13.10" fill="#fde8a4"/>
<text x="20.40" y="79.60" font-size="11.5" fill="#000">212~214</text>
<rect x="4.70" y="82.00" width="13.70" height="13.10" fill="#fef8d6"/>
<text x="20.40" y="92.70" font-size="11.5" fill="#000">210~212</text>
<rect x="0" y="0" width="155" height="200" fill="none" stroke="#4d4d4d" stroke-width="0.6"/>
<rect x="0" y="-20.6" width="155" height="20.6" fill="#fff" stroke="#3a3a3a" stroke-width="0.85"/>
<text x="79.9" y="-4.3" font-size="18.3" font-style="italic" text-anchor="middle" fill="#000">nirS</text>
<line x1="16.0" y1="200" x2="16.0" y2="202.7" stroke="#555" stroke-width="0.6"/>
<text transform="translate(14.0,206.0) rotate(-43.8)" text-anchor="end" x="0" y="9.5" font-size="13.8" fill="#1a1a1a">113.4°E</text>
<line x1="46.7" y1="200" x2="46.7" y2="202.7" stroke="#555" stroke-width="0.6"/>
<text transform="translate(44.7,206.0) rotate(-43.8)" text-anchor="end" x="0" y="9.5" font-size="13.8" fill="#1a1a1a">113.6°E</text>
<line x1="77.4" y1="200" x2="77.4" y2="202.7" stroke="#555" stroke-width="0.6"/>
<text transform="translate(75.4,206.0) rotate(-43.8)" text-anchor="end" x="0" y="9.5" font-size="13.8" fill="#1a1a1a">113.8°E</text>
<line x1="108.1" y1="200" x2="108.1" y2="202.7" stroke="#555" stroke-width="0.6"/>
<text transform="translate(106.1,206.0) rotate(-43.8)" text-anchor="end" x="0" y="9.5" font-size="13.8" fill="#1a1a1a">114.0°E</text>
<line x1="138.8" y1="200" x2="138.8" y2="202.7" stroke="#555" stroke-width="0.6"/>
<text transform="translate(136.8,206.0) rotate(-43.8)" text-anchor="end" x="0" y="9.5" font-size="13.8" fill="#1a1a1a">114.2°E</text>
<line x1="-2.7" y1="33.5" x2="0" y2="33.5" stroke="#555" stroke-width="0.6"/>
<text x="-7.4" y="39.1" text-anchor="end" font-size="13.8" fill="#1a1a1a">22.5°N</text>
<line x1="-2.7" y1="116.5" x2="0" y2="116.5" stroke="#555" stroke-width="0.6"/>
<text x="-7.4" y="122.1" text-anchor="end" font-size="13.8" fill="#1a1a1a">22.0°N</text>
<line x1="-2.7" y1="199.4" x2="0" y2="199.4" stroke="#555" stroke-width="0.6"/>
<text x="-7.4" y="205.1" text-anchor="end" font-size="13.8" fill="#1a1a1a">21.5°N</text>
</g>
<g transform="translate(866.0,333.1)">
<g mask="url(#water)">
<rect x="0" y="0" width="155" height="200" fill="#fdc761"/>
<path d="M122.0 48.0 C120.3 49.7 115.0 55.2 112.0 58.0 C109.0 60.8 106.7 62.5 104.0 65.0 C101.3 67.5 99.0 70.5 95.7 73.3 C92.4 76.1 88.2 79.4 84.0 81.6 C79.8 83.8 74.4 84.9 70.8 86.6 C67.2 88.3 64.3 89.4 62.4 91.6 C60.5 93.8 60.2 96.9 59.1 99.9 C58.0 103.0 57.4 106.9 55.8 109.9 C54.1 113.0 51.7 116.0 49.2 118.2 C46.7 120.4 44.0 122.2 40.9 123.1 C37.8 124.0 33.9 124.3 30.9 123.8 C27.8 123.2 24.8 121.8 22.6 119.8 C20.4 117.8 18.1 114.0 17.6 111.5 C17.1 109.0 18.4 106.9 19.5 105.0 C20.6 103.1 21.9 101.5 24.0 100.0 C26.1 98.5 30.7 96.7 32.0 96.0 L34 80 L38 50 L36 20 L40 -3 L122 -3 Z" fill="#f68b22"/>
<circle cx="68.6" cy="34.4" r="5.4" fill="#cc5226"/>
<circle cx="34.4" cy="115.5" r="2.0" fill="#cc5226"/>
<circle cx="85.6" cy="159.0" r="4.0" fill="#fdf5be"/>
<circle cx="89.8" cy="173.2" r="3.5" fill="#fdf5be"/>
<circle cx="109.7" cy="170.0" r="5.5" fill="#fdf5be"/>
<circle cx="83.4" cy="122.6" r="1.6" fill="#fdf5be"/>
</g>
<rect x="67.6" y="33.4" width="1.9" height="1.9" fill="#e8112d"/>
<rect x="75.3" y="64.5" width="1.9" height="1.9" fill="#e8112d"/>
<rect x="52.4" y="102.8" width="1.9" height="1.9" fill="#e8112d"/>
<rect x="86.2" y="103.5" width="1.9" height="1.9" fill="#e8112d"/>
<rect x="100.8" y="103.0" width="1.9" height="1.9" fill="#e8112d"/>
<rect x="33.4" y="114.5" width="1.9" height="1.9" fill="#e8112d"/>
<rect x="82.5" y="121.6" width="1.9" height="1.9" fill="#e8112d"/>
<rect x="27.9" y="129.7" width="1.9" height="1.9" fill="#e8112d"/>
<rect x="81.8" y="135.9" width="1.9" height="1.9" fill="#e8112d"/>
<rect x="102.0" y="132.2" width="1.9" height="1.9" fill="#e8112d"/>
<rect x="28.4" y="140.6" width="1.9" height="1.9" fill="#e8112d"/>
<rect x="84.6" y="158.1" width="1.9" height="1.9" fill="#e8112d"/>
<rect x="88.8" y="172.2" width="1.9" height="1.9" fill="#e8112d"/>
<rect x="108.8" y="169.1" width="1.9" height="1.9" fill="#e8112d"/>
<rect x="4.10" y="4.20" width="12.70" height="13.00" fill="#cc5226"/>
<text x="19.40" y="13.50" font-size="11.5" fill="#000">45~50</text>
<rect x="4.10" y="17.10" width="12.70" height="13.00" fill="#f68b22"/>
<text x="19.40" y="26.90" font-size="11.5" fill="#000">40~45</text>
<rect x="4.10" y="30.00" width="12.70" height="13.00" fill="#fdc761"/>
<text x="19.40" y="40.30" font-size="11.5" fill="#000">35~40</text>
<rect x="4.10" y="42.90" width="12.70" height="13.00" fill="#fdf5be"/>
<text x="19.40" y="53.70" font-size="11.5" fill="#000">30~35</text>
<rect x="0" y="0" width="155" height="200" fill="none" stroke="#4d4d4d" stroke-width="0.6"/>
<rect x="0" y="-20.6" width="155" height="20.6" fill="#fff" stroke="#3a3a3a" stroke-width="0.85"/>
<text x="79.7" y="-4.3" font-size="18.3" font-style="italic" text-anchor="middle" fill="#000">nirK</text>
<line x1="16.0" y1="200" x2="16.0" y2="202.7" stroke="#555" stroke-width="0.6"/>
<text transform="translate(14.0,206.0) rotate(-43.8)" text-anchor="end" x="0" y="9.5" font-size="13.8" fill="#1a1a1a">113.4°E</text>
<line x1="46.7" y1="200" x2="46.7" y2="202.7" stroke="#555" stroke-width="0.6"/>
<text transform="translate(44.7,206.0) rotate(-43.8)" text-anchor="end" x="0" y="9.5" font-size="13.8" fill="#1a1a1a">113.6°E</text>
<line x1="77.4" y1="200" x2="77.4" y2="202.7" stroke="#555" stroke-width="0.6"/>
<text transform="translate(75.4,206.0) rotate(-43.8)" text-anchor="end" x="0" y="9.5" font-size="13.8" fill="#1a1a1a">113.8°E</text>
<line x1="108.1" y1="200" x2="108.1" y2="202.7" stroke="#555" stroke-width="0.6"/>
<text transform="translate(106.1,206.0) rotate(-43.8)" text-anchor="end" x="0" y="9.5" font-size="13.8" fill="#1a1a1a">114.0°E</text>
<line x1="138.8" y1="200" x2="138.8" y2="202.7" stroke="#555" stroke-width="0.6"/>
<text transform="translate(136.8,206.0) rotate(-43.8)" text-anchor="end" x="0" y="9.5" font-size="13.8" fill="#1a1a1a">114.2°E</text>
<line x1="-2.7" y1="33.5" x2="0" y2="33.5" stroke="#555" stroke-width="0.6"/>
<line x1="-2.7" y1="116.5" x2="0" y2="116.5" stroke="#555" stroke-width="0.6"/>
<line x1="-2.7" y1="199.4" x2="0" y2="199.4" stroke="#555" stroke-width="0.6"/>
</g>
<g transform="translate(1033.5,333.1)">
<g mask="url(#water)">
<rect x="0" y="0" width="155" height="200" fill="#f68b22"/>
<circle cx="67.9" cy="33.9" r="9.7" fill="#fdc761"/>
<circle cx="53.4" cy="103.7" r="9.0" fill="#fdc761"/>
<path d="M85.5 153.0 C87.3 152.8 89.4 153.3 91.0 154.5 C92.6 155.7 93.9 157.4 95.0 160.0 C96.1 162.6 97.1 167.0 97.5 170.0 C97.9 173.0 98.2 175.8 97.5 178.0 C96.8 180.2 94.8 182.5 93.0 183.5 C91.2 184.5 88.6 184.6 86.5 184.0 C84.4 183.4 81.9 182.0 80.5 180.0 C79.1 178.0 78.5 174.8 78.0 172.0 C77.5 169.2 77.5 165.7 77.8 163.0 C78.1 160.3 78.7 157.7 80.0 156.0 C81.3 154.3 83.7 153.2 85.5 153.0Z" fill="#fdc761"/>
<circle cx="101.7" cy="104.0" r="4.0" fill="#cc5226"/>
<circle cx="83.4" cy="122.6" r="3.5" fill="#cc5226"/>
<circle cx="103.0" cy="133.2" r="1.5" fill="#fdc761"/>
</g>
<rect x="67.6" y="33.4" width="1.9" height="1.9" fill="#e8112d"/>
<rect x="75.3" y="64.5" width="1.9" height="1.9" fill="#e8112d"/>
<rect x="52.4" y="102.8" width="1.9" height="1.9" fill="#e8112d"/>
<rect x="86.2" y="103.5" width="1.9" height="1.9" fill="#e8112d"/>
<rect x="100.8" y="103.0" width="1.9" height="1.9" fill="#e8112d"/>
<rect x="33.4" y="114.5" width="1.9" height="1.9" fill="#e8112d"/>
<rect x="82.5" y="121.6" width="1.9" height="1.9" fill="#e8112d"/>
<rect x="27.9" y="129.7" width="1.9" height="1.9" fill="#e8112d"/>
<rect x="81.8" y="135.9" width="1.9" height="1.9" fill="#e8112d"/>
<rect x="102.0" y="132.2" width="1.9" height="1.9" fill="#e8112d"/>
<rect x="28.4" y="140.6" width="1.9" height="1.9" fill="#e8112d"/>
<rect x="84.6" y="158.1" width="1.9" height="1.9" fill="#e8112d"/>
<rect x="88.8" y="172.2" width="1.9" height="1.9" fill="#e8112d"/>
<rect x="108.8" y="169.1" width="1.9" height="1.9" fill="#e8112d"/>
<rect x="3.50" y="4.75" width="13.00" height="13.40" fill="#cc5226"/>
<text x="19.50" y="16.00" font-size="11.5" fill="#000">185~190</text>
<rect x="3.50" y="18.05" width="13.00" height="13.40" fill="#f68b22"/>
<text x="19.50" y="29.45" font-size="11.5" fill="#000">180~185</text>
<rect x="3.50" y="31.35" width="13.00" height="13.40" fill="#fdc761"/>
<text x="19.50" y="42.90" font-size="11.5" fill="#000">175~180</text>
<rect x="3.50" y="44.65" width="13.00" height="13.40" fill="#fdf5be"/>
<text x="19.50" y="56.35" font-size="11.5" fill="#000">170~175</text>
<rect x="0" y="0" width="155" height="200" fill="none" stroke="#4d4d4d" stroke-width="0.6"/>
<rect x="0" y="-20.6" width="155" height="20.6" fill="#fff" stroke="#3a3a3a" stroke-width="0.85"/>
<text x="80.7" y="-4.3" font-size="18.3" font-style="italic" text-anchor="middle" fill="#000">norB</text>
<line x1="16.0" y1="200" x2="16.0" y2="202.7" stroke="#555" stroke-width="0.6"/>
<text transform="translate(14.0,206.0) rotate(-43.8)" text-anchor="end" x="0" y="9.5" font-size="13.8" fill="#1a1a1a">113.4°E</text>
<line x1="46.7" y1="200" x2="46.7" y2="202.7" stroke="#555" stroke-width="0.6"/>
<text transform="translate(44.7,206.0) rotate(-43.8)" text-anchor="end" x="0" y="9.5" font-size="13.8" fill="#1a1a1a">113.6°E</text>
<line x1="77.4" y1="200" x2="77.4" y2="202.7" stroke="#555" stroke-width="0.6"/>
<text transform="translate(75.4,206.0) rotate(-43.8)" text-anchor="end" x="0" y="9.5" font-size="13.8" fill="#1a1a1a">113.8°E</text>
<line x1="108.1" y1="200" x2="108.1" y2="202.7" stroke="#555" stroke-width="0.6"/>
<text transform="translate(106.1,206.0) rotate(-43.8)" text-anchor="end" x="0" y="9.5" font-size="13.8" fill="#1a1a1a">114.0°E</text>
<line x1="138.8" y1="200" x2="138.8" y2="202.7" stroke="#555" stroke-width="0.6"/>
<text transform="translate(136.8,206.0) rotate(-43.8)" text-anchor="end" x="0" y="9.5" font-size="13.8" fill="#1a1a1a">114.2°E</text>
<line x1="-2.7" y1="33.5" x2="0" y2="33.5" stroke="#555" stroke-width="0.6"/>
<line x1="-2.7" y1="116.5" x2="0" y2="116.5" stroke="#555" stroke-width="0.6"/>
<line x1="-2.7" y1="199.4" x2="0" y2="199.4" stroke="#555" stroke-width="0.6"/>
</g>
<g transform="translate(1201.0,333.1)">
<g mask="url(#water)">
<rect x="0" y="0" width="155" height="200" fill="#f68b22"/>
<path d="M158.0 52.0 C152.5 53.3 135.9 56.7 125.0 60.0 C114.0 63.3 98.8 68.7 92.3 71.7 C85.8 74.8 88.5 76.1 85.7 78.3 C82.9 80.5 78.4 82.7 75.7 84.9 C73.0 87.1 71.2 89.1 69.8 91.6 C68.4 94.1 68.4 97.1 67.4 99.9 C66.5 102.7 66.0 106.2 64.1 108.2 C62.2 110.2 58.6 111.7 55.8 112.2 C53.0 112.8 50.0 112.5 47.5 111.5 C45.0 110.5 42.6 108.4 40.9 106.5 C39.2 104.6 38.6 102.7 37.5 99.9 C36.4 97.2 34.6 91.7 34.0 90.0 L34 60 L-3 45 L-3 -3 L158 -3 Z" fill="#fdbb4a"/>
<circle cx="68.6" cy="34.4" r="9.3" fill="#fbe294"/>
<circle cx="34.4" cy="115.5" r="3.6" fill="#fdbb4a"/>
<circle cx="28.9" cy="130.6" r="7.3" fill="#d95c25"/>
<circle cx="28.9" cy="130.6" r="2.2" fill="#a8401f"/>
<circle cx="109.7" cy="170.0" r="8.6" fill="#fdbb4a"/>
</g>
<rect x="67.6" y="33.4" width="1.9" height="1.9" fill="#e8112d"/>
<rect x="75.3" y="64.5" width="1.9" height="1.9" fill="#e8112d"/>
<rect x="52.4" y="102.8" width="1.9" height="1.9" fill="#e8112d"/>
<rect x="86.2" y="103.5" width="1.9" height="1.9" fill="#e8112d"/>
<rect x="100.8" y="103.0" width="1.9" height="1.9" fill="#e8112d"/>
<rect x="33.4" y="114.5" width="1.9" height="1.9" fill="#e8112d"/>
<rect x="82.5" y="121.6" width="1.9" height="1.9" fill="#e8112d"/>
<rect x="27.9" y="129.7" width="1.9" height="1.9" fill="#e8112d"/>
<rect x="81.8" y="135.9" width="1.9" height="1.9" fill="#e8112d"/>
<rect x="102.0" y="132.2" width="1.9" height="1.9" fill="#e8112d"/>
<rect x="28.4" y="140.6" width="1.9" height="1.9" fill="#e8112d"/>
<rect x="84.6" y="158.1" width="1.9" height="1.9" fill="#e8112d"/>
<rect x="88.8" y="172.2" width="1.9" height="1.9" fill="#e8112d"/>
<rect x="108.8" y="169.1" width="1.9" height="1.9" fill="#e8112d"/>
<rect x="4.20" y="4.90" width="12.80" height="13.40" fill="#a8401f"/>
<text x="20.90" y="16.00" font-size="11.5" fill="#000">340~345</text>
<rect x="4.20" y="18.20" width="12.80" height="13.40" fill="#d95c25"/>
<text x="20.90" y="29.25" font-size="11.5" fill="#000">335~340</text>
<rect x="4.20" y="31.50" width="12.80" height="13.40" fill="#f68b22"/>
<text x="20.90" y="42.50" font-size="11.5" fill="#000">330~335</text>
<rect x="4.20" y="44.80" width="12.80" height="13.40" fill="#fdbb4a"/>
<text x="20.90" y="55.75" font-size="11.5" fill="#000">325~330</text>
<rect x="4.20" y="58.10" width="12.80" height="13.40" fill="#fbe294"/>
<text x="20.90" y="69.00" font-size="11.5" fill="#000">320~325</text>
<rect x="4.20" y="71.40" width="12.80" height="13.40" fill="#fdf5c8"/>
<text x="20.90" y="82.25" font-size="11.5" fill="#000">315~320</text>
<rect x="0" y="0" width="155" height="200" fill="none" stroke="#4d4d4d" stroke-width="0.6"/>
<rect x="0" y="-20.6" width="155" height="20.6" fill="#fff" stroke="#3a3a3a" stroke-width="0.85"/>
<text x="81.1" y="-4.3" font-size="18.3" font-style="italic" text-anchor="middle" fill="#000">nosZ</text>
<line x1="16.0" y1="200" x2="16.0" y2="202.7" stroke="#555" stroke-width="0.6"/>
<text transform="translate(14.0,206.0) rotate(-43.8)" text-anchor="end" x="0" y="9.5" font-size="13.8" fill="#1a1a1a">113.4°E</text>
<line x1="46.7" y1="200" x2="46.7" y2="202.7" stroke="#555" stroke-width="0.6"/>
<text transform="translate(44.7,206.0) rotate(-43.8)" text-anchor="end" x="0" y="9.5" font-size="13.8" fill="#1a1a1a">113.6°E</text>
<line x1="77.4" y1="200" x2="77.4" y2="202.7" stroke="#555" stroke-width="0.6"/>
<text transform="translate(75.4,206.0) rotate(-43.8)" text-anchor="end" x="0" y="9.5" font-size="13.8" fill="#1a1a1a">113.8°E</text>
<line x1="108.1" y1="200" x2="108.1" y2="202.7" stroke="#555" stroke-width="0.6"/>
<text transform="translate(106.1,206.0) rotate(-43.8)" text-anchor="end" x="0" y="9.5" font-size="13.8" fill="#1a1a1a">114.0°E</text>
<line x1="138.8" y1="200" x2="138.8" y2="202.7" stroke="#555" stroke-width="0.6"/>
<text transform="translate(136.8,206.0) rotate(-43.8)" text-anchor="end" x="0" y="9.5" font-size="13.8" fill="#1a1a1a">114.2°E</text>
<line x1="-2.7" y1="33.5" x2="0" y2="33.5" stroke="#555" stroke-width="0.6"/>
<line x1="-2.7" y1="116.5" x2="0" y2="116.5" stroke="#555" stroke-width="0.6"/>
<line x1="-2.7" y1="199.4" x2="0" y2="199.4" stroke="#555" stroke-width="0.6"/>
</g>
</svg>
</body></html>
